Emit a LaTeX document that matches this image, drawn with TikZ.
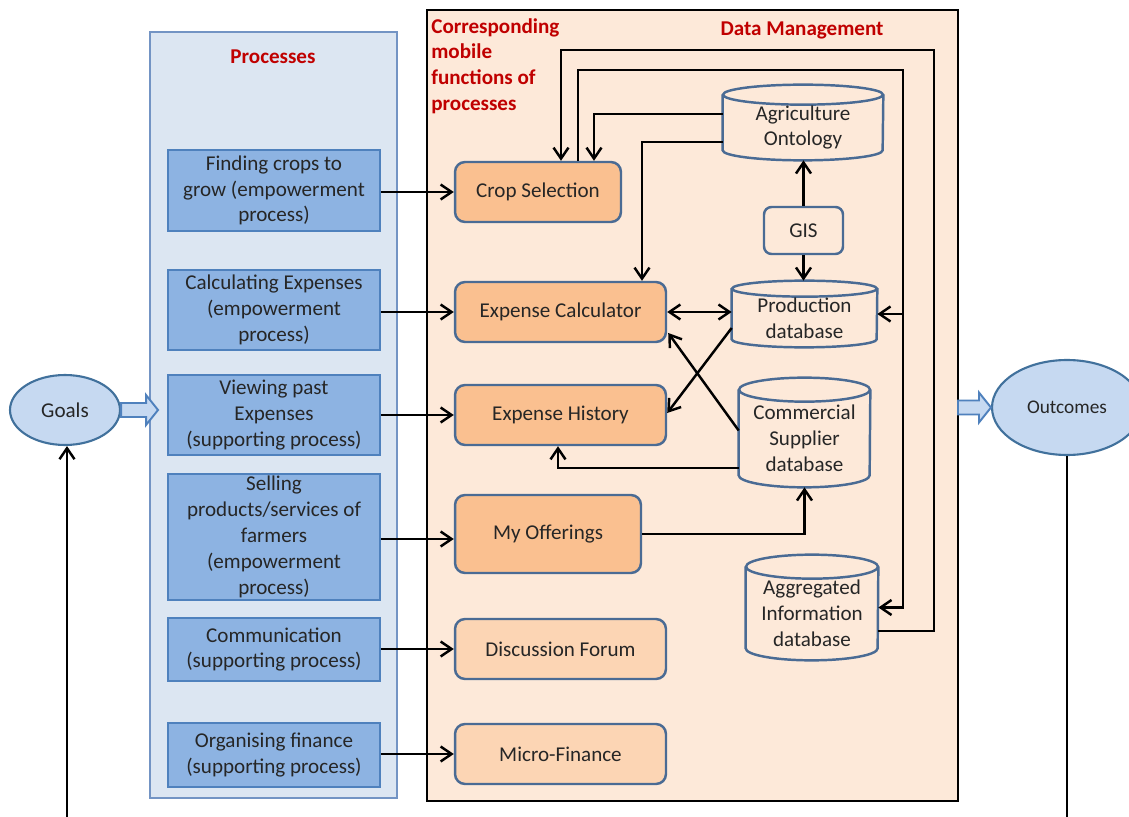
\documentclass[tikz,border=0pt]{standalone}
\usepackage{fontspec}
\setmainfont{Carlito}
\usetikzlibrary{arrows.meta,calc,shapes.geometric}

\definecolor{procbg}{HTML}{DCE6F2}
\definecolor{procedge}{HTML}{7394C4}
\definecolor{procfill}{HTML}{8DB3E2}
\definecolor{procline}{HTML}{4F81BD}
\definecolor{dmbg}{HTML}{FDE9D9}
\definecolor{funfill}{HTML}{FAC090}
\definecolor{funlight}{HTML}{FCD5B4}
\definecolor{funedge}{HTML}{4A6B94}
\definecolor{ttl}{HTML}{C00000}
\definecolor{ellfill}{HTML}{C6D9F1}
\definecolor{elledge}{HTML}{41719C}
\definecolor{txt}{HTML}{262626}

% database cylinder: name, cx, cy, width, height, cap radius, label
\newcommand\dbcyl[7]{%
  \node[minimum width=#4,minimum height=#5,inner sep=0pt] (#1) at (#2,#3) {};
  \draw[dbline] ($(#1.north west)+(0,-#6)$) -- ($(#1.south west)+(0,#6)$)
    arc[start angle=180,end angle=360,x radius=#4/2,y radius=#6]
    -- ($(#1.north east)+(0,-#6)$);
  \draw[dbline] ($(#1.north)+(0,-#6)$) ellipse[x radius=#4/2,y radius=#6];
  \node[align=center,text=txt,inner sep=0pt] (#1-t) at ($(#1.center)+(0,-#6/2)$) {#7};
}

\tikzset{
  every node/.style={font=\fontsize{12}{14.7}\selectfont},
  procbox/.style={draw=procline,fill=procfill,line width=1.2pt,minimum width=4.24cm,
    align=center,inner sep=1pt,text=txt},
  funbox/.style={draw=funedge,fill=funfill,rounded corners=0.2cm,line width=1.4pt,
    align=center,text=txt,minimum height=1.2cm},
  dbline/.style={draw=funedge,line width=1.4pt},
  ttltext/.style={text=ttl,font=\fontsize{12}{14.7}\selectfont\bfseries},
  tip/.style={},
  conn/.style={line width=1.4pt,-{Straight Barb[length=2.2mm,width=3mm]}},
  biconn/.style={line width=1.4pt,{Straight Barb[length=2.2mm,width=3mm]}-{Straight Barb[length=2.2mm,width=3mm]}},
  plain/.style={line width=1.4pt},
  barrow/.style={draw=procline,fill=ellfill,line width=1.1pt},
  goalell/.style={ellipse,draw=elledge,fill=ellfill,line width=1.2pt,text=txt,inner sep=0pt}
}

\begin{document}
\begin{tikzpicture}[x=0.02cm,y=-0.02cm]
\useasboundingbox (0,0) rectangle (1129,817);
\clip (0,0) rectangle (1129,817);
\fill[white] (0,0) rectangle (1129,817);

% panels
\node[draw=procedge,fill=procbg,line width=1.1pt,minimum width=4.94cm,minimum height=15.32cm,inner sep=0pt]
  (procpanel) at (273.5,415) {};
\node[draw=black,fill=dmbg,line width=1.5pt,minimum width=10.62cm,minimum height=15.82cm,inner sep=0pt]
  (dmpanel) at (692.5,405.5) {};

% titles
\node[ttltext] (proctitle) at (273,57) {Processes};
\node[ttltext,align=left,anchor=north west,inner sep=0pt] (mobtitle) at (431,18)
  {Corresponding\\mobile\\functions of\\processes};
\node[ttltext] (dmtitle) at (802,30) {Data Management};

% processes
\node[procbox,minimum height=1.62cm] (p1) at (274,190.5) {Finding crops to\\grow (empowerment\\process)};
\node[procbox,minimum height=1.6cm] (p2) at (274,310) {Calculating  Expenses\\(empowerment\\process)};
\node[procbox,minimum height=1.6cm] (p3) at (274,415) {Viewing past\\Expenses\\(supporting process)};
\node[procbox,minimum height=2.52cm] (p4) at (274,537) {Selling\\products/services of\\farmers\\(empowerment\\process)};
\node[procbox,minimum height=1.26cm] (p5) at (274,649.5) {Communication\\(supporting process)};
\node[procbox,minimum height=1.28cm] (p6) at (274,755) {Organising finance\\(supporting process)};

% mobile functions
\node[funbox,minimum width=3.32cm] (f1) at (538,192) {Crop Selection};
\node[funbox,minimum width=4.22cm] (f2) at (560.5,312) {Expense Calculator};
\node[funbox,minimum width=4.22cm] (f3) at (560.5,415) {Expense History};
\node[funbox,minimum width=3.72cm,minimum height=1.56cm] (f4) at (548,534) {My Offerings};
\node[funbox,fill=funlight,minimum width=4.22cm] (f5) at (560.5,649) {Discussion Forum};
\node[funbox,fill=funlight,minimum width=4.22cm] (f6) at (560.5,754) {Micro-Finance};

% data stores
\dbcyl{agri}{803}{122.5}{3.2cm}{1.5cm}{0.2cm}{Agriculture\\Ontology}
\dbcyl{prod}{804.5}{314}{2.9cm}{1.32cm}{0.16cm}{Production\\database}
\dbcyl{comm}{804.5}{432.5}{2.62cm}{2.18cm}{0.24cm}{Commercial\\Supplier\\database}
\dbcyl{aggr}{812}{607.5}{2.64cm}{2.1cm}{0.24cm}{Aggregated\\Information\\database}
\node[draw=funedge,fill=dmbg,rounded corners=0.15cm,line width=1.4pt,minimum width=1.58cm,
  minimum height=0.94cm,text=txt] (gis) at (803.5,230.5) {GIS};

% process -> mobile function
\foreach \i in {1,2,3,5,6}{
  \draw[conn] (p\i.east |- f\i.west) -- (f\i.west);
}
\draw[conn] ($(p4.east)+(0,2)$) -- ($(f4.west)+(0,5)$);

% data flows
\draw[conn] ($(agri.west)+(0,-8.5)$) -| ($(f1.north)+(56,0)$);
\draw[conn] ($(agri.west)+(0,19.5)$) -| ($(f2.north)+(81.5,0)$);
\draw[conn] (gis.north) -- (agri.south -| gis.north);
\draw[conn] (gis.south) -- (prod.north -| gis.south);
\draw[biconn] (f2.east) -- (f2.east -| prod.west);
\draw[conn] ($(prod.west)+(0,14)$) -- ($(f3.east)+(0,-2)$);
\draw[conn] ($(comm.west)+(0,-2)$) -- ($(f2.east)+(1,21)$);
\draw[conn] ($(comm.west)+(0,35.5)$) -| ($(f3.south)+(-2.5,0)$);
\draw[conn] (f4.east) -| (comm.south);

% feedback loops through the aggregated store
\coordinate (loopA) at (903,70);
\coordinate (loopB) at (934,50);
\draw[conn] ($(f1.north)+(40,0)$) |- (loopA) -- (loopA |- aggr.east) -- (aggr.east);
\draw[conn] (loopA |- prod.east) -- (prod.east);
\draw[conn] ($(aggr.east)+(0,23.5)$) -| (loopB) -| ($(f1.north)+(23,0)$);

% goals and outcomes
\node[goalell,minimum width=2.2cm,minimum height=1.4cm] (goals) at (65,410) {Goals};
\node[goalell,minimum width=3.0cm,minimum height=1.9cm,font=\fontsize{11}{13}\selectfont] (outc) at (1067,407.5) {Outcomes};
\draw[barrow] (goals.east) ++(0,-7) -- ++(25,0) -- ++(0,-8) -- ++(12,15) -- ++(-12,15)
  -- ++(0,-8) -- ++(-25,0) -- cycle;
\draw[barrow] ($(outc.west)+(-33,-7)$) -- ++(21,0) -- ++(0,-8) -- ++(12,15) -- ++(-12,15)
  -- ++(0,-8) -- ++(-21,0) -- cycle;
\coordinate (gin) at (67,817);
\coordinate (oout) at (1067,817);
\draw[conn] (gin) -- (gin |- goals.south);
\draw[plain] (outc.south) -- (oout);
\end{tikzpicture}
\end{document}
